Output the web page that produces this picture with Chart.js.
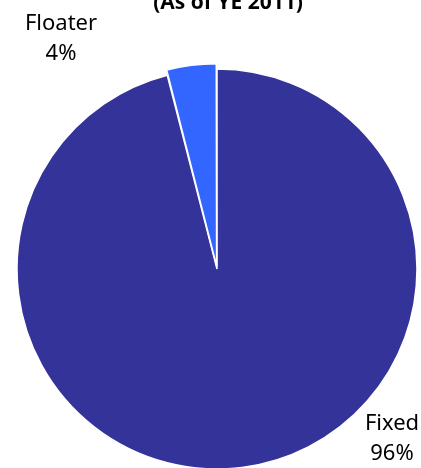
<!DOCTYPE html>
<html>
<head>
<meta charset="utf-8">
<script src="https://cdn.jsdelivr.net/npm/chart.js@4/dist/chart.umd.min.js"></script>
<style>
  html, body { margin: 0; padding: 0; background: #fff; }
  #frame { position: relative; width: 421px; height: 468px; overflow: hidden; }
  #chart { position: absolute; left: 0; top: -32px; }
</style>
</head>
<body>
<div id="frame"><canvas id="chart" width="421" height="500"></canvas></div>
<script>
// data
const categories = ['Fixed', 'Floater'];
const shares = [96, 4];
const sliceColors = ['#333399', '#3366FF'];
const titleText = '(As of YE 2011)';

// text drawn on top of the pie: title plus outside labels
const pieText = {
    id: 'pieText',
    afterDraw(chart) {
        const ctx = chart.ctx;
        ctx.save();
        ctx.fillStyle = '#000';
        ctx.textAlign = 'center';
        ctx.textBaseline = 'middle';
        ctx.font = "bold 21px 'Open Sans', sans-serif";
        ctx.fillText(titleText, 228, 35);

        ctx.font = "22px 'Noto Sans', sans-serif";
        const spots = [[392, 456], [61, 56]];
        categories.forEach((name, i) => {
            const [x, y] = spots[i];
            ctx.fillText(name, x, y);
            ctx.fillText(shares[i] + '%', x, y + 30);
        });
        ctx.restore();
    }
};

new Chart(document.getElementById('chart'), {
    type: 'pie',
    data: {
        labels: categories,
        datasets: [{
            data: shares,
            backgroundColor: sliceColors,
            borderColor: '#fff',
            borderWidth: 1.5,
            offset: [0, 12]
        }]
    },
    options: {
        responsive: false,
        animation: false,
        events: [],
        radius: 200,
        layout: { padding: { left: 13, right: 0, top: 102, bottom: 0 } },
        plugins: {
            legend: { display: false },
            tooltip: { enabled: false }
        }
    },
    plugins: [pieText]
});
</script>
</body>
</html>
